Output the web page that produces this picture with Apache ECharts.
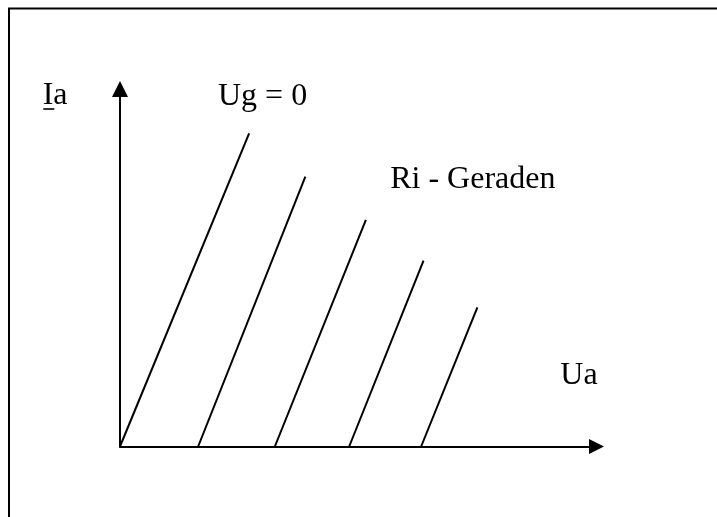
<!DOCTYPE html>
<html>
<head>
<meta charset="utf-8">
<script src="https://cdn.jsdelivr.net/npm/echarts@6/dist/echarts.min.js"></script>
<style>
  html, body { margin: 0; padding: 0; background: #fff; }
  #chart { width: 717px; height: 517px; }
</style>
</head>
<body>
<div id="chart"></div>
<script>
// Ri-Geraden: je Linie Fußpunkt (auf Ua-Achse) und oberer Endpunkt
var lineNames = ['Ug = 0', 'Ug1', 'Ug2', 'Ug3', 'Ug4'];
var footUa = [0, 16.4, 32.5, 48.1, 63.2];
var topUa = [27.1, 38.9, 51.6, 63.7, 75.0];
var topIa = [87.6, 75.5, 63.4, 52.0, 38.9];

var serif = "'Liberation Serif', 'DejaVu Serif', serif";

var chart = echarts.init(document.getElementById('chart'));

var series = lineNames.map(function (name, i) {
  return {
    name: name,
    type: 'line',
    symbol: 'none',
    silent: true,
    lineStyle: { color: '#000', width: 2 },
    data: [[footUa[i], 0], [topUa[i], topIa[i]]]
  };
});

var option = {
  animation: false,
  backgroundColor: '#fff',
  grid: { left: 120, right: 120.5, top: 89, bottom: 70.5 },
  xAxis: {
    type: 'value',
    min: 0,
    max: 100,
    axisLine: {
      show: true,
      symbol: ['none', 'triangle'],
      symbolSize: [15, 15],
      lineStyle: { color: '#000', width: 2 }
    },
    axisTick: { show: false },
    axisLabel: { show: false },
    splitLine: { show: false }
  },
  yAxis: {
    type: 'value',
    min: 0,
    max: 100,
    axisLine: {
      show: true,
      symbol: ['none', 'triangle'],
      symbolSize: [16, 16],
      lineStyle: { color: '#000', width: 2 }
    },
    axisTick: { show: false },
    axisLabel: { show: false },
    splitLine: { show: false }
  },
  graphic: [
    // Rahmen (rechts und unten abgeschnitten)
    {
      type: 'rect',
      shape: { x: 9, y: 8.5, width: 800, height: 600 },
      style: { fill: 'none', stroke: '#000', lineWidth: 2 },
      silent: true
    },
    {
      type: 'text',
      style: { text: 'Ia', x: 42.7, y: 95.2, font: '32px ' + serif, fill: '#000', verticalAlign: 'middle' }
    },
    {
      type: 'line',
      shape: { x1: 43.3, y1: 109, x2: 54.3, y2: 109 },
      style: { stroke: '#000', lineWidth: 1.6 }
    },
    {
      type: 'text',
      style: { text: 'Ug = 0', x: 218, y: 97, font: '32px ' + serif, fill: '#000', verticalAlign: 'middle' }
    },
    {
      type: 'text',
      style: { text: 'Ri - Geraden', x: 390.2, y: 179.5, font: '32px ' + serif, fill: '#000', verticalAlign: 'middle' }
    },
    {
      type: 'text',
      style: { text: 'Ua', x: 560.3, y: 375.2, font: '32px ' + serif, fill: '#000', verticalAlign: 'middle' }
    }
  ],
  series: series
};

chart.setOption(option);
</script>
</body>
</html>
